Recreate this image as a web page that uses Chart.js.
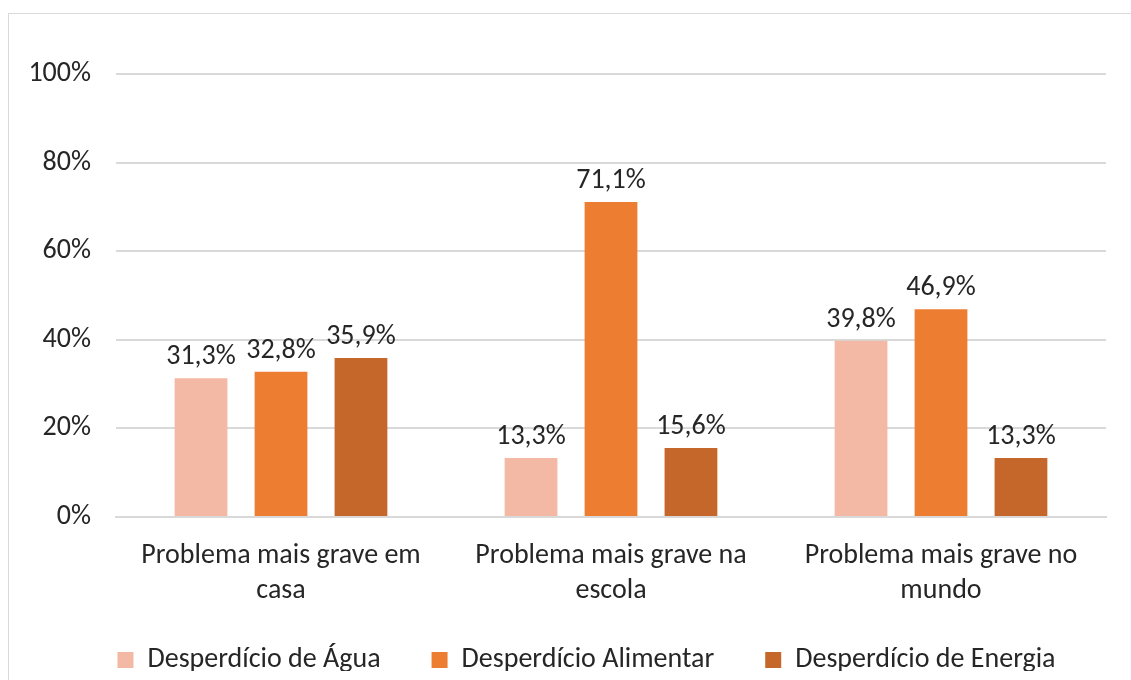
<!DOCTYPE html>
<html>
<head>
<meta charset="utf-8">
<script src="https://cdn.jsdelivr.net/npm/chart.js@4/dist/chart.umd.min.js"></script>
<style>
  body { margin: 0; background: #fff; }
  #box {
    position: absolute; left: 8px; top: 13px;
    width: 1122px; height: 667px;
    border: 1px solid #d9d9d9; border-bottom: none;
  }
</style>
</head>
<body>
<div id="box"><canvas id="chart"></canvas></div>
<script>
// Data
const categories = [
  ['Problema mais grave em', 'casa'],
  ['Problema mais grave na', 'escola'],
  ['Problema mais grave no', 'mundo']
];
const seriesNames = ['Desperdício de Água', 'Desperdício Alimentar', 'Desperdício de Energia'];
const agua = [31.3, 13.3, 39.8];
const alimentar = [32.8, 71.1, 46.9];
const energia = [35.9, 15.6, 13.3];
const yTicks = [0, 20, 40, 60, 80, 100];
const colors = ['#F4B9A5', '#ED7D31', '#C5672B'];

const FONT = 'Carlito, Calibri, Lato, sans-serif';

// value labels above each bar
const barLabels = {
  id: 'barLabels',
  afterDatasetsDraw(chart) {
    const ctx = chart.ctx;
    ctx.save();
    ctx.font = '28px ' + FONT;
    ctx.fillStyle = '#262626';
    ctx.textAlign = 'center';
    ctx.textBaseline = 'bottom';
    chart.data.datasets.forEach((ds, i) => {
      chart.getDatasetMeta(i).data.forEach((bar, j) => {
        ctx.fillText(ds.data[j].toFixed(1).replace('.', ',') + '%', bar.x, bar.y - 7);
      });
    });
    ctx.restore();
  }
};

// keep wide gaps between legend items without the tall legend box
const legendFix = {
  id: 'legendFix',
  beforeLayout(chart) {
    const lg = chart.legend;
    if (lg && !lg._fixed) {
      const fit = lg.fit.bind(lg);
      lg.fit = function () { fit(); this.height = 76; };
      lg._fixed = true;
    }
  },
  afterLayout(chart) {
    const lg = chart.legend;
    lg.left += 19;
    lg.right += 19;
    lg.top -= 10;
    lg.bottom -= 10;
  }
};

new Chart(document.getElementById('chart'), {
  type: 'bar',
  data: {
    labels: categories,
    datasets: [agua, alimentar, energia].map((d, i) => ({
      label: seriesNames[i],
      data: d,
      backgroundColor: colors[i],
      categoryPercentage: 0.727,
      barPercentage: 0.66
    }))
  },
  options: {
    responsive: true,
    maintainAspectRatio: false,
    animation: false,
    layout: { padding: { top: 60, right: 25, left: 20, bottom: 0 } },
    plugins: {
      tooltip: { enabled: false },
      legend: {
        position: 'bottom',
        labels: {
          color: '#262626',
          font: { family: FONT, size: 28 },
          boxWidth: 16,
          boxHeight: 16,
          padding: 51
        }
      }
    },
    scales: {
      x: {
        afterFit: scale => { scale.height = 88; },
        grid: { display: false },
        border: { color: '#d9d9d9', width: 2 },
        ticks: {
          color: '#262626',
          font: { family: FONT, size: 28, lineHeight: 1.25 },
          padding: 13,
          maxRotation: 0
        }
      },
      y: {
        min: 0,
        max: 100,
        afterBuildTicks: scale => { scale.ticks = yTicks.map(v => ({ value: v })); },
        afterFit: scale => { scale.width = 87; },
        grid: { color: '#d9d9d9', lineWidth: 2, drawTicks: false },
        border: { display: false },
        ticks: {
          color: '#262626',
          font: { family: FONT, size: 28 },
          padding: 25,
          callback: v => v + '%'
        }
      }
    }
  },
  plugins: [barLabels, legendFix]
});
</script>
</body>
</html>
